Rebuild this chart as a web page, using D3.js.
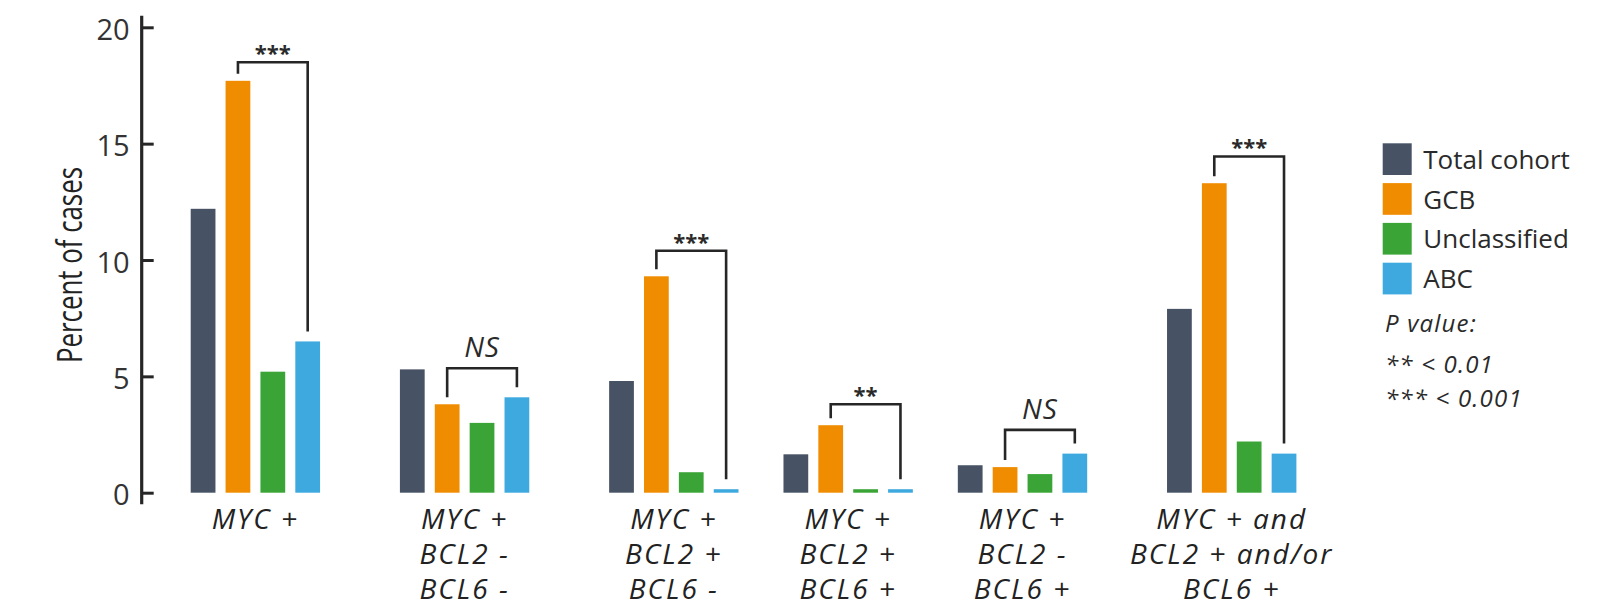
<!DOCTYPE html>
<html>
<head>
<meta charset="utf-8">
<script src="https://cdn.jsdelivr.net/npm/d3@7"></script>
<style>
  body { margin: 0; background: #ffffff; }
  svg { display: block; font-family: "Open Sans", Lato, sans-serif; }
</style>
</head>
<body>
<svg id="chart" width="1615" height="609"></svg>
<script>
// ---- data -------------------------------------------------------------
const categories = [
  "MYC +",
  "MYC +\nBCL2 -\nBCL6 -",
  "MYC +\nBCL2 +\nBCL6 -",
  "MYC +\nBCL2 +\nBCL6 +",
  "MYC +\nBCL2 -\nBCL6 +",
  "MYC + and\nBCL2 + and/or\nBCL6 +"
];
const seriesNames = ["Total cohort", "GCB", "Unclassified", "ABC"];
const totalCohort  = [12.2, 5.3, 4.8, 1.65, 1.18, 7.9];
const gcb          = [17.7, 3.8, 9.3, 2.9, 1.1, 13.3];
const unclassified = [5.2, 3.0, 0.88, 0.15, 0.8, 2.2];
const abc          = [6.5, 4.1, 0.15, 0.15, 1.68, 1.68];
const yTicks = [0, 5, 10, 15, 20];

// GCB vs ABC comparison per category: label and bracket level (percent)
const significance = ["***", "NS", "***", "**", "NS", "***"];
const bracketLevel = [18.5, 5.35, 10.4, 3.8, 2.7, 14.45];
const pValueNotes = ["P value:", "** < 0.01", "*** < 0.001"];

const seriesValues = [totalCohort, gcb, unclassified, abc];
const colors = ["#475365", "#F08C00", "#3AA536", "#3EA9DF"];

// ---- layout -----------------------------------------------------------
const svg = d3.select("#chart");
const ink = "#262626";

// empty slots between consecutive category groups
const gapSlots = [2, 2, 1, 1, 2];
const groupStart = [];
let slotCount = 0;
categories.forEach((c, i) => {
  groupStart.push(slotCount);
  slotCount += seriesNames.length + (i < gapSlots.length ? gapSlots[i] : 0);
});
slotCount = groupStart[groupStart.length - 1] + seriesNames.length;

const x = d3.scaleBand()
  .domain(d3.range(slotCount))
  .range([190.7, 1296.4])
  .paddingInner(0.29)
  .paddingOuter(0);

const y = d3.scaleLinear().domain([0, 20]).range([492.7, 27.3]);

const barX = (g, s) => x(groupStart[g] + s);
const barCenter = (g, s) => barX(g, s) + x.bandwidth() / 2;
const groupCenter = g => (barX(g, 0) + barX(g, seriesNames.length - 1) + x.bandwidth()) / 2;

// ---- y axis -----------------------------------------------------------
const axisX = 141.7;
const yAxis = d3.axisLeft(y)
  .tickValues(yTicks)
  .tickFormat(d3.format("d"))
  .tickSize(-12)
  .tickPadding(12);

const gy = svg.append("g")
  .attr("transform", `translate(${axisX},0)`)
  .call(yAxis);
gy.select(".domain").remove();
gy.selectAll(".tick line").attr("stroke", ink).attr("stroke-width", 3);
gy.selectAll(".tick text")
  .attr("fill", "#333")
  .attr("font-size", 29)
  .attr("dy", "0.42em")
  .style("font-family", "'Open Sans', sans-serif");
gy.append("line")
  .attr("x1", 0).attr("x2", 0)
  .attr("y1", y(-0.5)).attr("y2", y(20.5))
  .attr("stroke", ink).attr("stroke-width", 3.2);

svg.append("text")
  .attr("transform", `translate(82,265) rotate(-90)`)
  .attr("text-anchor", "middle")
  .attr("font-size", 34)
  .attr("fill", "#222")
  .attr("textLength", 196)
  .attr("lengthAdjust", "spacingAndGlyphs")
  .text("Percent of cases");

// ---- bars -------------------------------------------------------------
const bars = [];
categories.forEach((c, g) => {
  seriesValues.forEach((vals, s) => bars.push({ g, s, v: vals[g] }));
});

svg.append("g").selectAll("rect")
  .data(bars)
  .join("rect")
  .attr("x", d => barX(d.g, d.s))
  .attr("width", x.bandwidth())
  .attr("y", d => y(d.v))
  .attr("height", d => y(0) - y(d.v))
  .attr("fill", d => colors[d.s]);

// ---- category labels --------------------------------------------------
const labels = svg.append("g")
  .attr("font-size", 28)
  .attr("font-style", "italic")
  .attr("letter-spacing", 2)
  .attr("fill", "#222")
  .attr("text-anchor", "middle");

categories.forEach((c, g) => {
  const t = labels.append("text")
    .attr("x", groupCenter(g))
    .attr("y", 529);
  c.split("\n").forEach((line, i) => {
    t.append("tspan")
      .attr("x", groupCenter(g))
      .attr("dy", i === 0 ? 0 : 35)
      .text(line);
  });
});

// ---- significance brackets (GCB vs ABC) -------------------------------
const brackets = svg.append("g");
categories.forEach((c, g) => {
  const xl = barCenter(g, 1);
  const xr = barCenter(g, 3);
  const top = y(bracketLevel[g]);
  const leftEnd = y(gcb[g]) - 7;
  const rightEnd = y(abc[g]) - 10;
  brackets.append("path")
    .attr("d", `M${xl},${leftEnd}V${top}H${xr}V${rightEnd}`)
    .attr("fill", "none")
    .attr("stroke", ink)
    .attr("stroke-width", 2.6);

  const isNS = significance[g] === "NS";
  brackets.append("text")
    .attr("x", (xl + xr) / 2)
    .attr("y", isNS ? top - 11 : top - 1)
    .attr("text-anchor", "middle")
    .attr("font-size", isNS ? 28 : 22)
    .attr("font-weight", isNS ? 400 : 700)
    .attr("font-style", isNS ? "italic" : "normal")
    .attr("letter-spacing", isNS ? 1 : 0)
    .attr("fill", "#2a2a2a")
    .text(significance[g]);
});

// ---- legend -----------------------------------------------------------
const legend = svg.append("g").attr("transform", "translate(1382.7,143.3)");
seriesNames.forEach((name, i) => {
  const row = legend.append("g").attr("transform", `translate(0,${i * 39.8})`);
  row.append("rect")
    .attr("width", 29)
    .attr("height", 31.7)
    .attr("fill", colors[i]);
  row.append("text")
    .attr("x", 40.6)
    .attr("y", 25.5)
    .attr("font-size", 26)
    .attr("fill", "#2a2a2a")
    .text(name);
});

const notes = svg.append("g")
  .attr("font-size", 24)
  .attr("font-style", "italic")
  .attr("letter-spacing", 1.2)
  .attr("fill", "#2a2a2a");
pValueNotes.forEach((line, i) => {
  notes.append("text")
    .attr("x", 1385)
    .attr("y", i === 0 ? 331.7 : 372.7 + (i - 1) * 34)
    .text(line);
});
</script>
</body>
</html>
